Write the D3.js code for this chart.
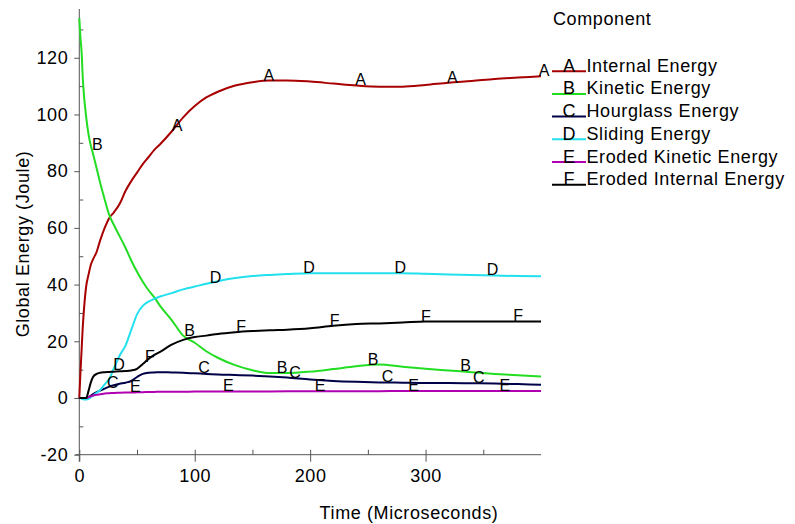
<!DOCTYPE html>
<html>
<head>
<meta charset="utf-8">
<script src="https://cdn.jsdelivr.net/npm/d3@7"></script>
<style>
  body { margin: 0; background: #fff; }
  text { font-family: "Liberation Sans", Arial, sans-serif; fill: #000; }
</style>
</head>
<body>
<div id="chart"></div>
<script>
// sample times (microseconds)
var time = [0, 1, 2, 3, 4, 6, 8, 10, 12, 15, 18, 22, 26, 30, 35, 40, 45, 50, 55, 60, 65, 70,
  80, 90, 100, 110, 120, 135, 150, 165, 180, 200, 220, 240, 260, 280, 300, 320, 340, 360, 380, 400];

// energies (Joule), one value per sample time
var internalEnergy = [0, 9, 17, 25, 31, 39.5, 43.5, 47, 49, 51.5, 55.5, 60, 63.5, 65.5, 68.5, 73, 76.5, 79.5, 82.5, 85, 87.5, 89.5,
  94, 99, 103, 106, 108, 110.2, 111.4, 112, 112, 111.6, 110.9, 110.2, 109.8, 109.8, 110.4, 111.2, 111.8, 112.5, 113, 113.5];
var kineticEnergy = [134, 127, 122, 113, 107, 99, 93, 89, 86, 81, 76, 70, 64.5, 61, 57, 53, 48.5, 44.5, 41, 38, 35.5, 32.5,
  27.5, 22, 19.5, 16.5, 14.2, 11.6, 9.8, 8.8, 8.8, 9.3, 10.2, 11.2, 11.8, 11, 10.3, 9.7, 9.1, 8.5, 8, 7.6];
var hourglassEnergy = [0, 0, 0, 0, 0, 0, 0.2, 0.8, 1.4, 2.1, 2.6, 3.3, 4, 4.5, 5, 5.4, 6, 7.4, 8.5, 8.9, 9, 9.1,
  9, 8.9, 8.7, 8.5, 8.3, 8.1, 7.9, 7.6, 7.2, 6.5, 6, 5.7, 5.5, 5.4, 5.3, 5.3, 5.2, 5.1, 4.9, 4.7];
var slidingEnergy = [0, 0, -0.2, -0.4, -0.5, -0.5, -0.3, 0.3, 0.8, 1.8, 2.8, 4.8, 6.8, 10.5, 15, 18.5, 24, 29.5, 32.5, 34, 35, 35.8,
  37, 38.3, 39.3, 40.3, 41.2, 42.3, 43, 43.4, 43.7, 44, 44, 44, 44, 44, 43.8, 43.6, 43.4, 43.2, 43, 42.9];
var erodedKineticEnergy = [0, 0, 0, 0, 0, 0, 0.3, 0.6, 0.9, 1.1, 1.3, 1.6, 1.7, 1.8, 1.85, 1.9, 1.95, 2, 2.05, 2.1, 2.15, 2.2,
  2.2, 2.2, 2.25, 2.25, 2.3, 2.3, 2.3, 2.3, 2.35, 2.35, 2.4, 2.4, 2.4, 2.45, 2.45, 2.5, 2.5, 2.5, 2.5, 2.5];
var erodedInternalEnergy = [0, 0, 0, 0, 0, 0, 2.5, 5.5, 7.5, 8.5, 8.9, 9.1, 9.2, 9.3, 9.4, 9.5, 9.7, 10.3, 12, 13.8, 15.2, 16.3,
  18.8, 20.5, 21.5, 22, 22.6, 23.2, 23.6, 23.9, 24.1, 24.6, 25.5, 26.1, 26.3, 26.6, 27, 27, 27, 27, 27, 27];

// where the curve letters sit (microseconds)
var internalLabelTimes = [80, 159.5, 239, 318.5, 398];
var kineticLabelTimes = [11, 91, 171, 250, 330];
var hourglassLabelTimes = [24, 103, 182, 262, 341];
var slidingLabelTimes = [29.5, 113, 194, 273, 353];
var erodedKineticLabelTimes = [44, 124.5, 204, 285, 364];
var erodedInternalLabelTimes = [57, 136, 217, 296, 376];

var letters = ["A", "B", "C", "D", "E", "F"];
var names = ["Internal Energy", "Kinetic Energy", "Hourglass Energy", "Sliding Energy",
  "Eroded Kinetic Energy", "Eroded Internal Energy"];
var xTicks = [0, 100, 200, 300];
var yTicks = [-20, 0, 20, 40, 60, 80, 100, 120];

var colors = ["#a80000", "#22dd22", "#000048", "#22e0ee", "#b000b0", "#000000"];
var valuesList = [internalEnergy, kineticEnergy, hourglassEnergy, slidingEnergy, erodedKineticEnergy, erodedInternalEnergy];
var labelList = [internalLabelTimes, kineticLabelTimes, hourglassLabelTimes, slidingLabelTimes,
  erodedKineticLabelTimes, erodedInternalLabelTimes];

var series = letters.map(function(l, i) {
  return {
    letter: l, name: names[i], color: colors[i], labels: labelList[i],
    points: time.map(function(t, j) { return {t: t, e: valuesList[i][j]}; })
  };
});

var svg = d3.select("#chart").append("svg")
    .attr("width", 795)
    .attr("height", 524);

var x = d3.scaleLinear().domain([0, 400]).range([79.3, 541]);
var y = d3.scaleLinear().domain([-20, 137.2]).range([454.7, 9]);

var axisColor = "#555";

// y axis: major ticks outside, minor ticks inside
var yAxis = svg.append("g")
    .attr("transform", "translate(" + x(0) + ",0)")
    .call(d3.axisLeft(y).tickValues(yTicks).tickSize(5).tickPadding(6).tickSizeOuter(0)
      .tickFormat(function(d) { return String(d); }));
yAxis.select(".domain").remove();
yAxis.selectAll("line").attr("stroke", axisColor);
yAxis.selectAll("text").style("font-size", "18px").style("letter-spacing", "0.6px");

var yMinor = svg.append("g")
    .attr("transform", "translate(" + x(0) + ",0)")
    .call(d3.axisRight(y).tickValues(d3.range(-10, 131, 20)).tickSize(4).tickFormat(""));
yMinor.select(".domain").remove();
yMinor.selectAll("line").attr("stroke", axisColor);

svg.append("line")
    .attr("x1", x(0)).attr("x2", x(0))
    .attr("y1", 9).attr("y2", y(-20) + 7)
    .attr("stroke", axisColor);

// x axis: major ticks cross the line, minor ticks inside
var xAxis = svg.append("g")
    .attr("transform", "translate(0," + y(-20) + ")")
    .call(d3.axisBottom(x).tickValues(xTicks).tickSize(7).tickSizeOuter(0)
      .tickFormat(function(d) { return String(d); }));
xAxis.select(".domain").remove();
xAxis.selectAll("line").attr("stroke", axisColor).attr("y1", -5);
xAxis.selectAll("text").attr("y", 27).attr("dy", 0)
    .style("font-size", "18px").style("letter-spacing", "0.6px");

var xMinor = svg.append("g")
    .attr("transform", "translate(0," + y(-20) + ")")
    .call(d3.axisTop(x).tickValues([50, 150, 250, 350]).tickSize(5).tickFormat(""));
xMinor.select(".domain").remove();
xMinor.selectAll("line").attr("stroke", axisColor);

svg.append("line")
    .attr("x1", x(0) - 4).attr("x2", x(400))
    .attr("y1", y(-20)).attr("y2", y(-20))
    .attr("stroke", axisColor);

// axis titles
svg.append("text")
    .attr("transform", "translate(29," + 244 + ") rotate(-90)")
    .attr("text-anchor", "middle")
    .style("font-size", "18px").style("letter-spacing", "0.6px")
    .text("Global Energy (Joule)");

svg.append("text")
    .attr("x", 409).attr("y", 518.5)
    .attr("text-anchor", "middle")
    .style("font-size", "18px").style("letter-spacing", "0.6px")
    .text("Time (Microseconds)");

// curves
var line = d3.line()
    .x(function(d) { return x(d.t); })
    .y(function(d) { return y(d.e); })
    .curve(d3.curveMonotoneX);

svg.append("g").selectAll("path")
    .data(series)
    .enter().append("path")
      .attr("d", function(d) { return line(d.points); })
      .attr("fill", "none")
      .attr("stroke", function(d) { return d.color; })
      .attr("stroke-width", 2)
      .attr("stroke-linejoin", "round");

function valueAt(points, t) {
  var i = d3.bisector(function(d) { return d.t; }).left(points, t);
  if (i <= 0) return points[0].e;
  if (i >= points.length) return points[points.length - 1].e;
  var a = points[i - 1], b = points[i];
  return a.e + (b.e - a.e) * (t - a.t) / (b.t - a.t);
}

// curve letters
series.forEach(function(s) {
  svg.append("g").selectAll("text")
    .data(s.labels)
    .enter().append("text")
      .attr("x", function(t) { return x(t); })
      .attr("y", function(t) { return y(valueAt(s.points, t)); })
      .style("font-size", "16px")
      .text(s.letter);
});

// legend
var legend = svg.append("g");
legend.append("text")
    .attr("x", 553).attr("y", 25)
    .style("font-size", "18px").style("letter-spacing", "0.6px")
    .text("Component");

var row = legend.selectAll("g.row")
    .data(series)
    .enter().append("g")
      .attr("class", "row")
      .attr("transform", function(d, i) { return "translate(0," + (71.7 + i * 22.7) + ")"; });

row.append("line")
    .attr("x1", 552).attr("x2", 586)
    .attr("y1", -0.5).attr("y2", -0.5)
    .attr("stroke", function(d) { return d.color; })
    .attr("stroke-width", 2);

row.append("text")
    .attr("x", 569)
    .attr("text-anchor", "middle")
    .style("font-size", "18px")
    .text(function(d) { return d.letter; });

row.append("text")
    .attr("x", 586.5)
    .style("font-size", "18px").style("letter-spacing", "0.6px")
    .text(function(d) { return d.name; });
</script>
</body>
</html>
